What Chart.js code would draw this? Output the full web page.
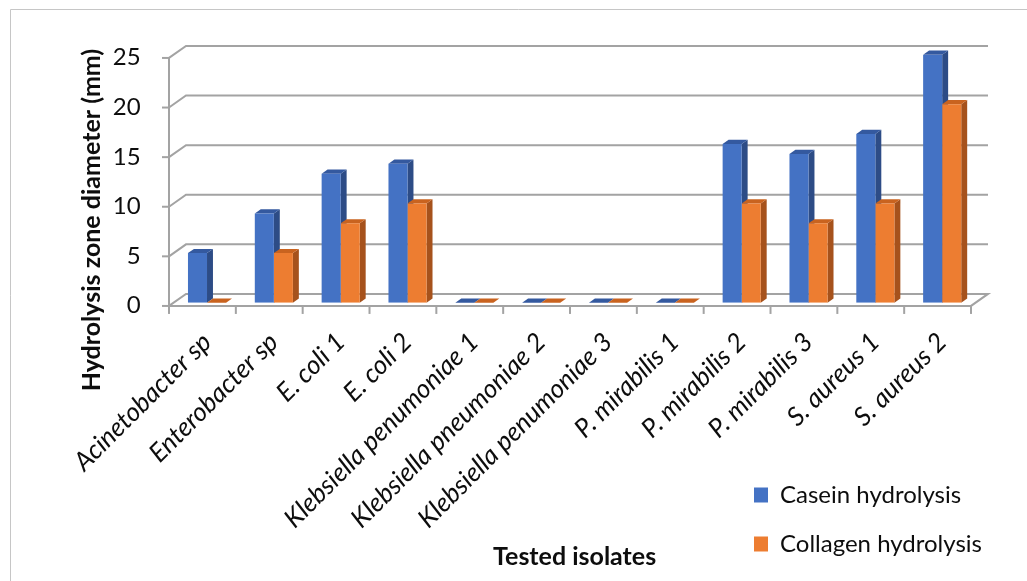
<!DOCTYPE html>
<html>
<head>
<meta charset="utf-8">
<script src="https://cdn.jsdelivr.net/npm/chart.js@4.4.1/dist/chart.umd.min.js"></script>
<style>
  html, body { margin: 0; padding: 0; background: #ffffff; }
  #wrap { width: 1027px; height: 581px; position: relative; }
</style>
</head>
<body>
<div id="wrap"><canvas id="chart" width="1027" height="581"></canvas></div>
<script>
// Isolates on the category axis
const isolates = [
  'Acinetobacter sp', 'Enterobacter sp', 'E. coli 1', 'E. coli 2',
  'Klebsiella penumoniae 1', 'Klebsiella pneumoniae 2', 'Klebsiella penumoniae 3',
  'P. mirabilis 1', 'P. mirabilis 2', 'P. mirabilis 3', 'S. aureus 1', 'S. aureus 2'
];
// Hydrolysis zone diameters (mm)
const caseinHydrolysis   = [5, 9, 13, 14, 0, 0, 0, 0, 16, 15, 17, 25];
const collagenHydrolysis = [0, 5, 8, 10, 0, 0, 0, 0, 10, 8, 10, 20];
// Value axis ticks
const yTicks = [0, 5, 10, 15, 20, 25];

const FONT = 'Lato, "Open Sans", sans-serif';
const TEXT = '#0d0d0d';
const GRID = '#a3a3a3';

// Pseudo-3D geometry: full floor depth and where the bars sit inside it
const DEPTH = { dx: 17, dy: -12 };
const BAR_FRONT = 0.27;   // fraction of depth in front of the bars
const BAR_DEPTH = 0.35;   // fraction of depth taken by the bars

const walls3d = {
  id: 'walls3d',
  beforeDraw(chart) {
    const ctx = chart.ctx;
    ctx.save();
    ctx.strokeStyle = '#c6c6c6';
    ctx.lineWidth = 1;
    ctx.beginPath();
    ctx.moveTo(10.5, chart.height);
    ctx.lineTo(10.5, 9.5);
    ctx.lineTo(chart.width, 9.5);
    ctx.stroke();
    ctx.restore();
  },
  beforeDatasetsDraw(chart) {
    const { ctx, scales: { x, y } } = chart;
    const fx = -BAR_FRONT * DEPTH.dx, fy = -BAR_FRONT * DEPTH.dy;
    const L = x.left + fx, R = x.right + fx;
    ctx.save();
    ctx.strokeStyle = GRID;
    ctx.lineWidth = 2;
    y.ticks.forEach(t => {
      const py = y.getPixelForValue(t.value) + fy;
      ctx.beginPath();
      ctx.moveTo(L, py);
      ctx.lineTo(L + DEPTH.dx, py + DEPTH.dy);
      ctx.lineTo(R + DEPTH.dx, py + DEPTH.dy);
      if (t.value === y.min) {
        ctx.lineTo(R, py);
        ctx.lineTo(L, py);
      }
      ctx.stroke();
      ctx.beginPath();
      ctx.moveTo(L - 7, py);
      ctx.lineTo(L, py);
      ctx.stroke();
    });
    const y0 = y.getPixelForValue(y.min) + fy;
    const y1 = y.getPixelForValue(y.max) + fy;
    ctx.beginPath();
    ctx.moveTo(L, y1);
    ctx.lineTo(L, y0);
    ctx.stroke();
    const n = x.ticks.length;
    const step = (x.right - x.left) / n;
    for (let i = 0; i <= n; i++) {
      const px = L + i * step;
      ctx.beginPath();
      ctx.moveTo(px, y0);
      ctx.lineTo(px, y0 + 8);
      ctx.stroke();
    }
    ctx.restore();

    // value-axis title
    ctx.save();
    ctx.translate(92, 220);
    ctx.rotate(-Math.PI / 2);
    ctx.font = 'bold 25px ' + FONT;
    ctx.fillStyle = TEXT;
    ctx.textAlign = 'center';
    ctx.textBaseline = 'middle';
    ctx.fillText('Hydrolysis zone diameter (mm)', 0, 0);
    ctx.restore();

    // side and top faces of every bar, painted before the front faces
    const sx = BAR_DEPTH * DEPTH.dx, sy = BAR_DEPTH * DEPTH.dy;
    ctx.save();
    chart.data.datasets.forEach((ds, di) => {
      chart.getDatasetMeta(di).data.forEach(bar => {
        const { x: bx, y: by, width, base } = bar.getProps(['x', 'y', 'width', 'base'], true);
        const l = bx - width / 2, r = bx + width / 2;
        ctx.fillStyle = ds.sideColor;
        ctx.beginPath();
        ctx.moveTo(r, by);
        ctx.lineTo(r + sx, by + sy);
        ctx.lineTo(r + sx, base + sy);
        ctx.lineTo(r, base);
        ctx.closePath();
        ctx.fill();
        ctx.fillStyle = ds.topColor;
        ctx.beginPath();
        ctx.moveTo(l, by);
        ctx.lineTo(l + sx, by + sy);
        ctx.lineTo(r + sx, by + sy);
        ctx.lineTo(r, by);
        ctx.closePath();
        ctx.fill();
      });
    });
    ctx.restore();
  }
};

// Move the legend below the plot, at the right
const legendPlacement = {
  id: 'legendPlacement',
  afterLayout(chart) {
    const lg = chart.legend;
    if (!lg) return;
    const w = lg.width, h = lg.height;
    lg.left = 729; lg.top = 458;
    lg.right = lg.left + w; lg.bottom = lg.top + h;
  }
};

new Chart(document.getElementById('chart'), {
  type: 'bar',
  data: {
    labels: isolates,
    datasets: [
      {
        label: 'Casein hydrolysis',
        data: caseinHydrolysis,
        backgroundColor: '#4472c4',
        sideColor: '#2d4c86',
        topColor: '#34599f',
        borderWidth: 0
      },
      {
        label: 'Collagen hydrolysis',
        data: collagenHydrolysis,
        backgroundColor: '#ed7d31',
        sideColor: '#a6521c',
        topColor: '#c9631f',
        borderWidth: 0
      }
    ]
  },
  options: {
    responsive: false,
    animation: false,
    layout: { padding: { left: 0, top: 54.7, right: 51.4, bottom: 0 } },
    datasets: { bar: { categoryPercentage: 0.57, barPercentage: 1.0 } },
    scales: {
      x: {
        offset: true,
        grid: { display: false, drawTicks: false },
        border: { display: false },
        ticks: {
          autoSkip: false, minRotation: 45, maxRotation: 45,
          padding: 24,
          color: TEXT,
          font: { family: FONT, size: 26, style: 'italic' }
        },
        title: {
          display: true, text: 'Tested isolates', color: TEXT,
          font: { family: FONT, size: 25, weight: 'bold' },
          padding: { top: 0, bottom: 9 }
        },
        afterFit(s) { s.height = 581 - 302.7; }
      },
      y: {
        min: 0, max: 25,
        grid: { display: false, drawTicks: false },
        border: { display: false },
        afterBuildTicks(s) { s.ticks = yTicks.map(v => ({ value: v })); },
        ticks: {
          padding: 33, labelOffset: 3,
          color: TEXT,
          font: { family: FONT, size: 24 }
        },
        afterFit(s) { s.width = 173.6; }
      }
    },
    plugins: {
      tooltip: { enabled: false },
      legend: {
        position: 'chartArea',
        align: 'start',
        labels: {
          boxWidth: 14, boxHeight: 15, padding: 25,
          color: TEXT,
          font: { family: FONT, size: 24 }
        }
      }
    }
  },
  plugins: [walls3d, legendPlacement]
});
</script>
</body>
</html>
